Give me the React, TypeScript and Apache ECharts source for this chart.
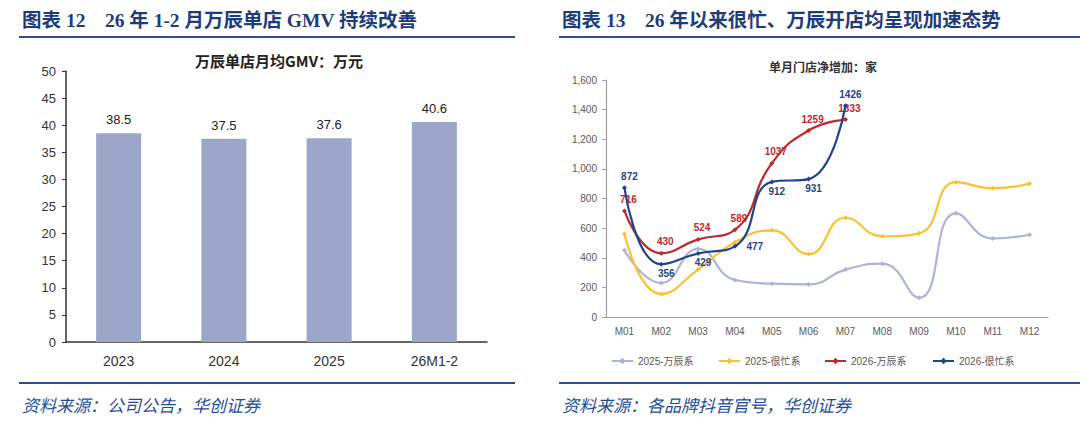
import { useEffect, useRef } from 'react'
import * as echarts from 'echarts'

// 左图：万辰单店月均GMV（万元）
const barCategories = ['2023', '2024', '2025', '26M1-2']
const barValues = [38.5, 37.5, 37.6, 40.6]

// 右图：单月门店净增加（家）
const months = ['M01', 'M02', 'M03', 'M04', 'M05', 'M06', 'M07', 'M08', 'M09', 'M10', 'M11', 'M12']
const wanchen2025 = [450, 230, 460, 250, 225, 220, 320, 360, 130, 700, 530, 555]
const henmang2025 = [560, 155, 320, 505, 585, 425, 670, 545, 565, 910, 870, 900]
const wanchen2026 = [716, 430, 524, 589, 1037, 1259, 1333]
const henmang2026 = [872, 356, 429, 477, 912, 931, 1426]

// 很忙系2026 标签摆放
const henmangLabelPos = ['top', 'bottom', 'bottom', 'right', 'bottom', 'bottom', 'top']

const BLUE = '#1F3C7A'
const LINE_BLUE = '#2E4D8E'
const SERIF = '"Liberation Serif", "Noto Sans CJK SC", serif'
const SANS = 'Arial, "Liberation Sans", "Noto Sans CJK SC", sans-serif'
const CJK = '"Noto Sans CJK SC", sans-serif'

const C_LAV = '#AEB4D6'
const C_YEL = '#F9C232'
const C_RED = '#C0282D'
const C_NAVY = '#1D4689'

function App() {
  const ref = useRef<HTMLDivElement>(null)

  useEffect(() => {
    if (!ref.current) return
    const chart = echarts.init(ref.current, undefined, { renderer: 'svg' })

    const lineBase = (name: string, data: number[], color: string, z: number) => ({
      name,
      type: 'line',
      xAxisIndex: 1,
      yAxisIndex: 1,
      data,
      smooth: 0.5,
      symbol: 'diamond',
      symbolSize: 5,
      lineStyle: { color, width: 2.2 },
      itemStyle: { color },
      z,
    })

    chart.setOption({
      animation: false,
      backgroundColor: '#fff',
      graphic: [
        {
          type: 'text', x: 22, y: 20,
          style: {
            text: '图表 12    26 年 1-2 月万辰单店 GMV 持续改善',
            fontSize: 19.5, fontWeight: 'bold', fontFamily: SERIF, fill: BLUE,
            textVerticalAlign: 'middle',
          },
        },
        {
          type: 'text', x: 562, y: 20,
          style: {
            text: '图表 13    26 年以来很忙、万辰开店均呈现加速态势',
            fontSize: 19.5, fontWeight: 'bold', fontFamily: SERIF, fill: BLUE,
            textVerticalAlign: 'middle',
          },
        },
        { type: 'line', shape: { x1: 19, y1: 37, x2: 515, y2: 37 }, style: { stroke: LINE_BLUE, lineWidth: 2 } },
        { type: 'line', shape: { x1: 559, y1: 37, x2: 1080, y2: 37 }, style: { stroke: LINE_BLUE, lineWidth: 2 } },
        { type: 'line', shape: { x1: 19, y1: 383, x2: 515, y2: 383 }, style: { stroke: LINE_BLUE, lineWidth: 2 } },
        { type: 'line', shape: { x1: 559, y1: 383, x2: 1080, y2: 383 }, style: { stroke: LINE_BLUE, lineWidth: 2 } },
        {
          type: 'text', x: 22, y: 404,
          style: {
            text: '资料来源：公司公告，华创证券',
            fontSize: 17, fontStyle: 'italic', fontFamily: CJK, fill: '#1F4E99',
            textVerticalAlign: 'middle',
          },
        },
        {
          type: 'text', x: 562, y: 404,
          style: {
            text: '资料来源：各品牌抖音官号，华创证券',
            fontSize: 17, fontStyle: 'italic', fontFamily: CJK, fill: '#1F4E99',
            textVerticalAlign: 'middle',
          },
        },
        {
          type: 'text', x: 279, y: 60,
          style: {
            text: '万辰单店月均GMV：万元',
            fontSize: 15, fontWeight: 'bold', fontFamily: CJK, fill: '#222',
            textAlign: 'center', textVerticalAlign: 'middle',
          },
        },
        {
          type: 'text', x: 823, y: 66,
          style: {
            text: '单月门店净增加：家',
            fontSize: 12, fontWeight: 'bold', fontFamily: CJK, fill: '#333',
            textAlign: 'center', textVerticalAlign: 'middle',
          },
        },
      ],
      legend: [
        { name: '2025-万辰系', left: 606 },
        { name: '2025-很忙系', left: 713 },
        { name: '2026-万辰系', left: 819 },
        { name: '2026-很忙系', left: 927 },
      ].map((l) => ({
        data: [l.name],
        left: l.left,
        top: 351,
        itemWidth: 21,
        itemHeight: 8,
        itemGap: 0,
        textStyle: { fontSize: 10, color: '#595959', fontFamily: SANS },
      })),
      grid: [
        { left: 66, right: 593, top: 71, bottom: 82 },
        { left: 606, right: 32, top: 80, bottom: 107 },
      ],
      xAxis: [
        {
          type: 'category',
          gridIndex: 0,
          data: barCategories,
          axisLine: { lineStyle: { color: '#333', width: 1.5 } },
          axisTick: { length: 4, lineStyle: { color: '#333' } },
          axisLabel: { color: '#333', fontSize: 14, fontFamily: SANS, margin: 12 },
        },
        {
          type: 'category',
          gridIndex: 1,
          data: months,
          axisLine: { lineStyle: { color: '#A0A0A0', width: 1.2 } },
          axisTick: { length: 4, lineStyle: { color: '#A0A0A0' } },
          axisLabel: { color: '#595959', fontSize: 10, fontFamily: SANS, margin: 9 },
        },
      ],
      yAxis: [
        {
          type: 'value',
          gridIndex: 0,
          min: 0,
          max: 50,
          interval: 5,
          axisLine: { show: true, lineStyle: { color: '#333', width: 1.5 } },
          axisTick: { show: true, length: 4, lineStyle: { color: '#333' } },
          splitLine: { show: false },
          axisLabel: { color: '#333', fontSize: 13, fontFamily: SANS, margin: 10 },
        },
        {
          type: 'value',
          gridIndex: 1,
          min: 0,
          max: 1600,
          interval: 200,
          axisLine: { show: true, lineStyle: { color: '#A0A0A0', width: 1.2 } },
          axisTick: { show: true, length: 4, lineStyle: { color: '#A0A0A0' } },
          splitLine: { show: false },
          axisLabel: {
            color: '#595959', fontSize: 10, fontFamily: SANS, margin: 9,
            formatter: (v: number) => v.toLocaleString('en-US'),
          },
        },
      ],
      series: [
        {
          type: 'bar',
          xAxisIndex: 0,
          yAxisIndex: 0,
          data: barValues,
          barWidth: 45,
          itemStyle: { color: '#9CA6C8' },
          label: {
            show: true,
            position: 'top',
            distance: 7,
            color: '#222',
            fontSize: 13,
            fontFamily: SANS,
          },
        },
        lineBase('2025-万辰系', wanchen2025, C_LAV, 2),
        lineBase('2025-很忙系', henmang2025, C_YEL, 3),
        {
          ...lineBase('2026-万辰系', wanchen2026, C_RED, 4),
          label: {
            show: true, position: 'top', distance: 4, offset: [4, 0],
            color: C_RED, fontSize: 10, fontWeight: 'bold', fontFamily: SANS,
          },
        },
        {
          ...lineBase(
            '2026-很忙系',
            henmang2026.map((v, i) => ({
              value: v,
              label: {
                position: henmangLabelPos[i],
                distance: henmangLabelPos[i] === 'bottom' ? 2 : 4,
              },
            })) as any,
            C_NAVY,
            5,
          ),
          label: {
            show: true, position: 'top', offset: [5, 0],
            color: C_NAVY, fontSize: 10, fontWeight: 'bold', fontFamily: SANS,
          },
        },
      ],
    })

    return () => chart.dispose()
  }, [])

  return (
    <div
      ref={ref}
      style={{ position: 'fixed', left: 0, top: 0, width: 1080, height: 424, background: '#fff' }}
    />
  )
}

export default App
